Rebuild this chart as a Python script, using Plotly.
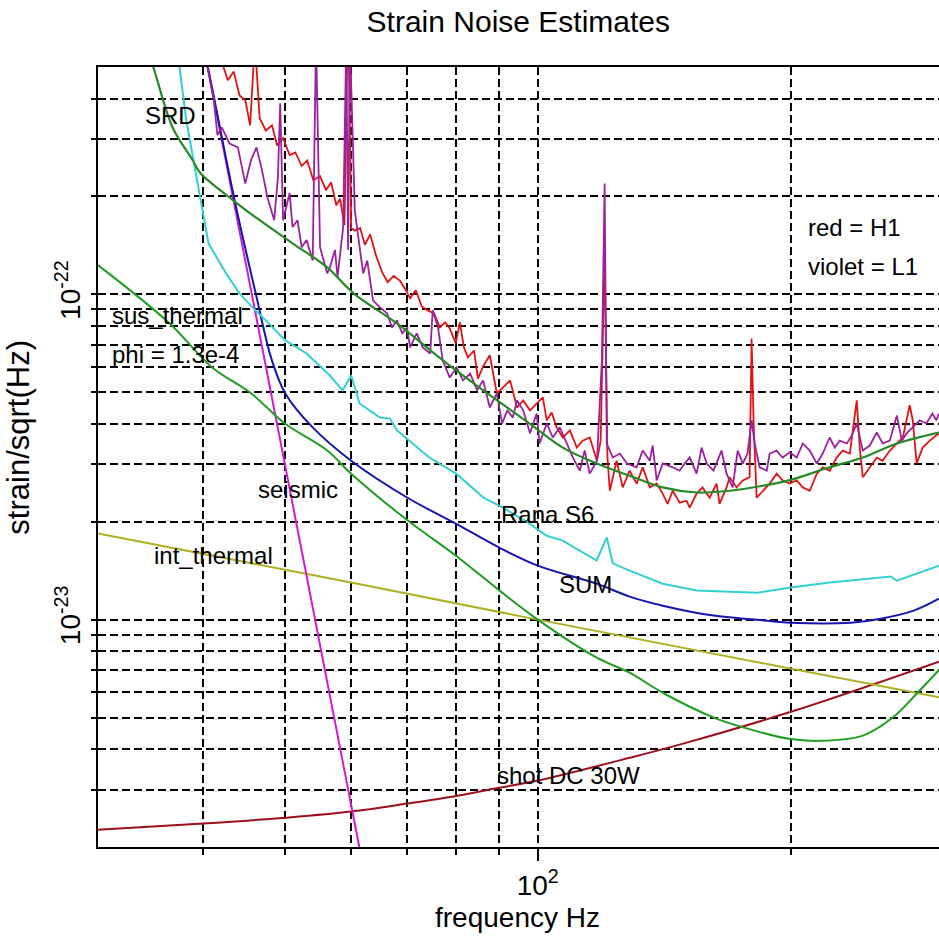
import numpy as np
import plotly.graph_objects as go

# All strain values are in units of 1e-23 strain/sqrt(Hz)
UNIT = 1e-23

# ---------------- model curves ----------------
srd_f = [34.0, 34.9, 36.8, 38.9, 39.7, 43.4, 46.7, 51.1, 56.2, 60.4, 68.0, 77.2, 89.5, 97.9,
         107.1, 117.5, 128.6, 140.8, 154.6, 169.2, 185.1, 199.0, 222.4, 243.5, 267.3, 300.0]
srd_v = [60.5, 50.0, 32.6, 25.8, 23.6, 19.5, 16.9, 14.35, 12.1, 10.07, 8.14, 6.26, 4.72, 4.0,
         3.38, 3.02, 2.77, 2.55, 2.46, 2.49, 2.58, 2.68, 2.94, 3.15, 3.48, 3.76]

sus_f = [30.0, 36.5, 41.0, 45.5, 50.1, 56.2, 60.0, 70.0, 80.0, 90.0, 100.0, 117.5, 128.6, 140.8,
         161.9, 175.8, 199.0, 217.0, 243.5, 264.3, 282.2, 300.0]
sus_v = [12.3, 8.14, 5.96, 4.99, 4.0, 3.31, 2.81, 2.02, 1.57, 1.23, 1.0, 0.764, 0.687, 0.596,
         0.5, 0.466, 0.43, 0.424, 0.44, 0.5, 0.592, 0.70]

seis_f = [39.5, 45.0, 50.0, 55.0, 60.0, 62.0]
seis_v = [69.7, 12.3, 3.03, 0.854, 0.268, 0.174]

sum_f = [40.0, 40.5, 40.9, 43.6, 46.2, 48.3, 50.1, 54.0, 60.0, 70.0, 80.0, 90.0, 100.0, 117.5,
         128.6, 140.8, 161.9, 181.9, 200.0, 235.6, 255.8, 279.9, 300.0]
sum_v = [59.3, 50.4, 44.5, 19.5, 10.07, 6.26, 4.96, 3.9, 3.08, 2.37, 1.97, 1.665, 1.466, 1.29,
         1.177, 1.104, 1.029, 1.0, 0.979, 0.979, 1.007, 1.066, 1.16]

rana_f = [37.0, 37.5, 38.2, 38.9, 39.7, 40.6, 42.6, 44.2, 45.8, 47.5, 50.1, 53.1, 56.6, 58.6,
          60.0, 61.4, 64.9, 66.7, 68.0, 74.3, 80.0, 86.2, 90.9, 97.9, 102.5, 107.1, 117.5,
          120.8, 122.8, 128.6, 140.8, 154.6, 182.4, 199.0, 222.4, 262.9, 267.3, 300.0]
rana_v = [56.3, 50.0, 34.3, 26.4, 19.9, 14.35, 11.6, 10.07, 9.12, 8.32, 7.22, 6.58, 5.63, 5.07,
          5.63, 4.62, 4.18, 4.15, 3.82, 3.15, 2.81, 2.37, 2.21, 1.97, 1.81, 1.75, 1.52,
          1.79, 1.49, 1.415, 1.29, 1.23, 1.21, 1.254, 1.30, 1.356, 1.318, 1.466]

intth_f = [30.0, 60.0, 100.0, 200.0, 300.0]
intth_v = [1.84, 1.30, 1.0, 0.707, 0.577]

shot_f = [30.0, 40.0, 50.0, 60.0, 70.0, 80.0, 90.0, 100.0, 128.6, 150.0, 200.0, 300.0]
shot_v = [0.226, 0.236, 0.246, 0.257, 0.272, 0.287, 0.304, 0.32, 0.376, 0.418, 0.521, 0.743]

# ---------------- measured spectra ----------------
h1_f = [41.8, 42.8, 43.5, 44.2, 44.9, 45.5, 46.1, 46.7, 47.5, 48.3, 49.0, 49.8, 50.7, 51.5,
        52.4, 53.2, 54.1, 55.1, 56.0, 56.8, 57.6, 58.2, 58.9, 59.5, 60.0, 60.6, 61.5, 62.3,
        63.2, 64.2, 65.3, 66.3, 67.4, 68.6, 69.7, 70.5, 71.6, 72.8, 74.0, 75.3, 76.5, 77.6,
        78.6, 79.9, 80.8, 81.7, 82.6, 84.0, 84.9, 86.1, 87.7, 89.4, 90.9, 92.7, 94.5, 96.1,
        97.9, 99.7, 101.4, 102.5, 103.9, 105.3, 107.1, 109.2, 111.3, 113.1, 115.3, 117.6, 118.8,
        120.1, 121.0, 121.8, 124.1, 126.2, 128.6, 131.1, 133.3, 135.9, 138.5, 140.8, 142.7,
        144.7, 147.5, 150.3, 151.6, 154.5, 157.0, 160.1, 163.2, 164.5, 167.7, 169.1, 172.4,
        175.3, 178.6, 179.6, 180.6, 182.1, 185.1, 188.7, 192.3, 195.5, 199.3, 203.2, 206.6,
        210.6, 214.7, 218.2, 222.4, 226.7, 230.4, 235.0, 239.5, 241.5, 243.5, 248.2, 253.0,
        257.1, 262.2, 267.3, 271.7, 276.9, 279.2, 282.2, 286.9, 292.5, 300.0]
h1_v = [55.0, 45.5, 48.4, 40.9, 39.5, 33.1, 60.0, 34.8, 31.9, 33.1, 28.7, 30.2, 26.8, 27.3,
        24.8, 25.8, 22.4, 23.1, 20.9, 22.1, 18.8, 19.7, 16.3, 80.0, 16.0, 15.7, 16.0, 14.2,
        15.3, 13.2, 11.7, 10.9, 11.4, 11.0, 10.3, 9.72, 10.3, 9.18, 8.93, 8.74, 7.91, 8.20,
        7.86, 7.07, 8.20, 6.87, 6.40, 6.72, 5.51, 6.0, 6.5, 4.96, 5.17, 5.44, 4.49, 4.72,
        4.40, 4.62, 4.82, 4.10, 4.33, 3.90, 3.63, 3.82, 3.38, 3.55, 3.63, 3.08, 3.55,
        13.7, 3.2, 2.49, 3.08, 2.55, 2.87, 2.62, 2.94, 2.55, 2.62, 2.44, 2.27,
        2.49, 2.29, 2.32, 2.21, 2.44, 2.55, 2.37, 2.62, 2.27, 2.55, 2.74, 2.55,
        2.68, 2.74, 7.32, 4.0, 2.37, 2.49, 2.62, 2.81, 2.68, 2.62, 2.68, 2.55,
        2.49, 2.81, 2.94, 2.87, 3.15, 3.31, 3.24, 4.72, 3.38, 2.74, 2.94, 3.15,
        3.08, 3.31, 3.48, 3.63, 4.56, 4.10, 3.02, 3.38, 3.55, 3.74]

l1_f = [40.2, 41.2, 41.6, 42.1, 43.0, 44.0, 44.9, 45.6, 46.3, 47.0, 47.7, 48.6, 49.1, 49.4,
        49.8, 50.7, 51.1, 51.8, 52.4, 53.1, 54.0, 54.5, 55.1, 55.6, 56.2, 56.6, 57.4, 57.8,
        58.7, 59.2, 59.5, 59.8, 60.6, 61.1, 62.0, 62.7, 63.7, 64.9, 66.2, 67.1, 68.0, 69.0,
        69.9, 70.5, 71.8, 73.0, 74.5, 75.0, 76.1, 77.1, 78.6, 80.1, 81.5, 83.1, 84.7, 86.1,
        87.7, 89.4, 90.7, 92.0, 93.4, 94.5, 96.1, 97.9, 99.7, 100.5, 102.5, 104.2, 106.2,
        108.3, 110.1, 112.2, 113.7, 115.3, 117.6, 119.2, 120.1, 120.8, 122.8, 125.2, 127.7,
        131.1, 133.3, 135.9, 137.0, 138.5, 140.8, 144.7, 147.5, 149.5, 151.6, 154.5, 156.6,
        158.8, 161.8, 165.4, 167.7, 170.5, 172.9, 175.3, 177.6, 179.6, 181.1, 183.6, 187.2,
        188.7, 192.3, 195.5, 199.3, 203.2, 206.6, 210.6, 214.7, 218.2, 222.4, 225.5, 228.6,
        233.1, 236.3, 239.5, 243.5, 248.2, 253.0, 257.1, 262.2, 267.3, 271.0, 274.6, 279.2,
        284.6, 289.8, 294.6, 297.8, 300.0]
l1_v = [55.0, 39.5, 30.9, 32.6, 29.1, 28.3, 21.9, 25.8, 28.3, 24.1, 19.9, 16.9, 23.0, 38.7,
        16.9, 20.5, 16.1, 16.9, 13.95, 14.7, 12.7, 60.0, 13.95, 12.7, 11.6, 12.1, 13.7, 11.3,
        16.1, 60.0, 13.7, 60.0, 18.1, 15.4, 11.6, 12.7, 9.58, 9.12, 8.74, 7.91, 8.32, 7.59,
        7.91, 6.87, 7.59, 6.87, 6.58, 8.93, 7.91, 6.26, 5.55, 5.96, 5.44, 5.71, 5.07, 5.44,
        4.49, 4.96, 4.01, 4.40, 4.18, 4.72, 4.40, 3.74, 4.30, 3.48, 4.01, 3.63, 3.90,
        3.48, 3.15, 2.87, 3.31, 2.81, 3.08, 6.26, 21.9, 3.48, 3.15, 3.24, 3.02,
        2.94, 3.31, 3.08, 3.43, 2.68, 3.02, 2.94, 2.87, 3.02, 3.15, 2.81, 3.38,
        3.02, 2.87, 3.31, 2.81, 2.55, 3.31, 3.02, 3.24, 4.10, 3.48, 2.94, 2.87,
        3.24, 3.31, 3.15, 3.27, 3.15, 3.48, 3.31, 3.02, 3.24, 3.63, 3.38, 3.55,
        3.48, 3.68, 4.01, 3.31, 3.43, 3.76, 3.48, 3.55, 4.24, 3.55, 3.74, 3.90,
        4.10, 4.01, 4.30, 4.10, 4.30]

# ---------------- axes ----------------
x_range_hz = [30.0, 300.0]
y_range = [2e-24, 5e-22]
x_major = [100.0]
x_major_text = ['10<sup>2</sup>']
x_minor = [40.0, 50.0, 60.0, 70.0, 80.0, 90.0, 200.0]
y_major = [1e-23, 1e-22]
y_major_text = ['10<sup>-23</sup>', '10<sup>-22</sup>']
y_minor = [3e-24, 4e-24, 5e-24, 6e-24, 7e-24, 8e-24, 9e-24,
           2e-23, 3e-23, 4e-23, 5e-23, 6e-23, 7e-23, 8e-23, 9e-23,
           2e-22, 3e-22, 4e-22]

for a, b in [(srd_f, srd_v), (sus_f, sus_v), (seis_f, seis_v), (sum_f, sum_v), (rana_f, rana_v),
             (intth_f, intth_v), (shot_f, shot_v), (h1_f, h1_v), (l1_f, l1_v)]:
    assert len(a) == len(b), (len(a), len(b))

SANS = "Liberation Sans, Arial, sans-serif"

fig = go.Figure()


def add(f, v, color, width=2.0, shape='linear'):
    fig.add_trace(go.Scatter(x=f, y=np.array(v) * UNIT, mode='lines',
                             line=dict(color=color, width=width, shape=shape),
                             hoverinfo='skip', showlegend=False))


add(shot_f, shot_v, '#9e0f1c', 2, 'spline')
add(intth_f, intth_v, '#b0b020', 2)
add(seis_f, seis_v, '#d21ad2', 2)
add(sus_f, sus_v, '#1f9e1f', 2, 'spline')
add(sum_f, sum_v, '#1515b0', 2, 'spline')
add(rana_f, rana_v, '#33d0d0', 2)
add(h1_f, h1_v, '#e01414', 1.8)
add(l1_f, l1_v, '#9a22a0', 1.8)
add(srd_f, srd_v, '#268a26', 2.2, 'spline')

grid = dict(gridcolor='black', gridwidth=2, griddash='8px,4px')

fig.update_xaxes(type='log', range=[np.log10(x_range_hz[0]), np.log10(x_range_hz[1])],
                 tickmode='array', tickvals=x_major, ticktext=x_major_text,
                 ticks='outside', ticklen=12, tickwidth=1.8, tickcolor='black',
                 showgrid=True, **grid,
                 minor=dict(tickmode='array', tickvals=x_minor, ticks='outside', ticklen=6,
                            tickwidth=1.8, tickcolor='black', showgrid=True, **grid),
                 showline=True, linecolor='black', linewidth=2, mirror=True, zeroline=False,
                 tickfont=dict(family=SANS, size=28, color='black'))

fig.update_yaxes(type='log', range=[np.log10(y_range[0]), np.log10(y_range[1])],
                 tickmode='array', tickvals=y_major, ticktext=y_major_text, tickangle=-90,
                 ticks='outside', ticklen=5, tickwidth=1.8, tickcolor='black',
                 showgrid=True, **grid,
                 minor=dict(tickmode='array', tickvals=y_minor, ticks='outside', ticklen=5,
                            tickwidth=1.8, tickcolor='black', showgrid=True, **grid),
                 showline=True, linecolor='black', linewidth=2, mirror=False, zeroline=False,
                 tickfont=dict(family=SANS, size=28, color='black'))

labels = [
    ("SRD", 0.0535, 0.938),
    ("red = H1", 0.842, 0.794),
    ("violet = L1", 0.842, 0.744),
    ("sus_thermal", 0.0143, 0.682),
    ("phi = 1.3e-4", 0.0143, 0.631),
    ("seismic", 0.188, 0.458),
    ("Rana S6", 0.477, 0.426),
    ("int_thermal", 0.0642, 0.374),
    ("SUM", 0.546, 0.336),
    ("shot DC 30W", 0.472, 0.0923),
]
annotations = [dict(text=t, x=x, y=y, xref='paper', yref='paper', xanchor='left',
                    yanchor='middle', showarrow=False,
                    font=dict(family=SANS, size=24, color='black')) for t, x, y in labels]
annotations.append(dict(text='frequency Hz', x=0.4994, y=-0.09, xref='paper', yref='paper',
                        xanchor='center', yanchor='middle', showarrow=False,
                        font=dict(family=SANS, size=28, color='black')))
annotations.append(dict(text='strain/sqrt(Hz)', x=-0.094, y=0.526, xref='paper', yref='paper',
                        xanchor='center', yanchor='middle', showarrow=False, textangle=-90,
                        font=dict(family=SANS, size=31, color='black')))

fig.update_layout(
    width=939, height=936,
    margin=dict(l=98, r=0, t=67, b=89, pad=0),
    paper_bgcolor='white', plot_bgcolor='white',
    showlegend=False,
    title=dict(text='Strain Noise Estimates', x=0.552, xanchor='center', y=0.9765,
               yanchor='middle', font=dict(family=SANS, size=30, color='black')),
    annotations=annotations,
)

fig.write_html("out.html")
